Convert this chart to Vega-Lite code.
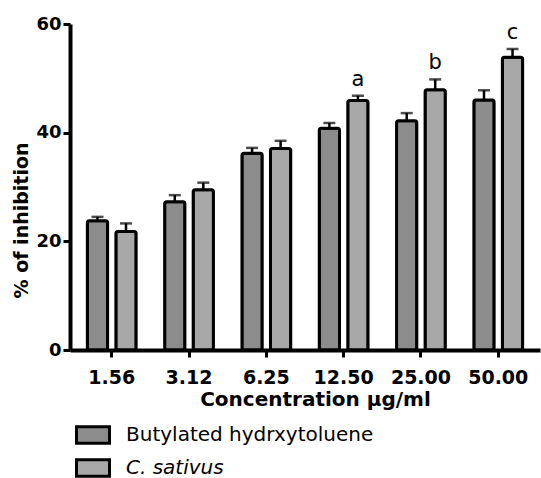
{
  "$schema": "https://vega.github.io/schema/vega-lite/v6.json",
  "width": 470,
  "height": 326,
  "autosize": {"type": "none"},
  "padding": {"left": 70, "top": 24, "right": 1, "bottom": 128},
  "background": "white",
  "config": {
    "view": {"stroke": null},
    "font": "DejaVu Sans",
    "axis": {
      "domainColor": "black",
      "domainWidth": 4,
      "tickColor": "black",
      "tickWidth": 3,
      "tickSize": 7,
      "labelColor": "black",
      "titleColor": "black",
      "grid": false,
      "labelFont": "DejaVu Sans",
      "titleFont": "DejaVu Sans"
    }
  },
  "data": {
    "values": [
      {"conc": "1.56", "series": "Butylated hydrxytoluene", "value": 23.8, "upper": 24.5, "label": ""},
      {"conc": "1.56", "series": "C. sativus", "value": 21.8, "upper": 23.3, "label": ""},
      {"conc": "3.12", "series": "Butylated hydrxytoluene", "value": 27.3, "upper": 28.5, "label": ""},
      {"conc": "3.12", "series": "C. sativus", "value": 29.5, "upper": 30.8, "label": ""},
      {"conc": "6.25", "series": "Butylated hydrxytoluene", "value": 36.2, "upper": 37.2, "label": ""},
      {"conc": "6.25", "series": "C. sativus", "value": 37.1, "upper": 38.5, "label": ""},
      {"conc": "12.50", "series": "Butylated hydrxytoluene", "value": 40.8, "upper": 41.8, "label": ""},
      {"conc": "12.50", "series": "C. sativus", "value": 45.9, "upper": 46.8, "label": "a"},
      {"conc": "25.00", "series": "Butylated hydrxytoluene", "value": 42.2, "upper": 43.6, "label": ""},
      {"conc": "25.00", "series": "C. sativus", "value": 47.9, "upper": 49.8, "label": "b"},
      {"conc": "50.00", "series": "Butylated hydrxytoluene", "value": 46.0, "upper": 47.8, "label": ""},
      {"conc": "50.00", "series": "C. sativus", "value": 53.9, "upper": 55.4, "label": "c"}
    ]
  },
  "encoding": {
    "x": {
      "field": "conc",
      "type": "nominal",
      "sort": null,
      "scale": {"paddingInner": 0, "paddingOuter": 0.04},
      "axis": {
        "labelAngle": 0,
        "labelFontSize": 19,
        "labelFontWeight": "bold",
        "labelBaseline": "alphabetic",
        "labelPadding": 26,
        "title": "Concentration µg/ml",
        "titleFontSize": 20,
        "titleFontWeight": "bold",
        "titleX": 245,
        "titleY": 55,
        "titleBaseline": "alphabetic"
      }
    },
    "xOffset": {
      "field": "series",
      "type": "nominal",
      "sort": null,
      "scale": {"paddingInner": 0.29, "paddingOuter": 0.5}
    }
  },
  "layer": [
    {
      "mark": {"type": "bar", "stroke": "black", "strokeWidth": 3, "cornerRadius": 2},
      "encoding": {
        "y": {
          "field": "value",
          "type": "quantitative",
          "scale": {"domain": [0, 60], "nice": false},
          "axis": {
            "values": [0, 20, 40, 60],
            "labelFontSize": 18,
            "labelFontWeight": "bold",
            "labelPadding": 2,
            "title": "% of inhibition",
            "titleFontSize": 19,
            "titleFontWeight": "bold",
            "titleAngle": -90,
            "titleX": -43,
            "titleY": 196,
            "titleBaseline": "alphabetic"
          }
        },
        "fill": {
          "field": "series",
          "type": "nominal",
          "sort": null,
          "scale": {
            "domain": ["Butylated hydrxytoluene", "C. sativus"],
            "range": ["#8c8c8c", "#a8a8a8"]
          },
          "legend": {
            "orient": "none",
            "legendX": 5,
            "legendY": 393,
            "title": null,
            "padding": 0,
            "labelFont": "DejaVu Sans",
            "labelFontSize": 20,
            "labelColor": "black",
            "labelOffset": 15,
            "labelLimit": 0,
            "rowPadding": 0,
            "symbolType": "M-1,-0.5H1V0.5H-1Z",
            "symbolSize": 1089,
            "symbolStrokeColor": "black",
            "symbolStrokeWidth": 3,
            "symbolOpacity": 1,
            "encode": {
              "labels": {
                "update": {
                  "fontStyle": {"signal": "datum.value === 'C. sativus' ? 'italic' : 'normal'"}
                }
              }
            }
          }
        }
      }
    },
    {
      "mark": {"type": "rule", "color": "black", "strokeWidth": 2.5},
      "encoding": {
        "y": {"field": "value", "type": "quantitative"},
        "y2": {"field": "upper"}
      }
    },
    {
      "mark": {"type": "tick", "color": "black", "thickness": 2.5, "size": 12, "orient": "horizontal"},
      "encoding": {
        "y": {"field": "upper", "type": "quantitative"}
      }
    },
    {
      "transform": [{"filter": "datum.label != ''"}],
      "mark": {"type": "text", "baseline": "alphabetic", "dy": -10, "fontSize": 21, "font": "DejaVu Sans", "color": "black"},
      "encoding": {
        "y": {"field": "upper", "type": "quantitative"},
        "text": {"field": "label"}
      }
    }
  ]
}
